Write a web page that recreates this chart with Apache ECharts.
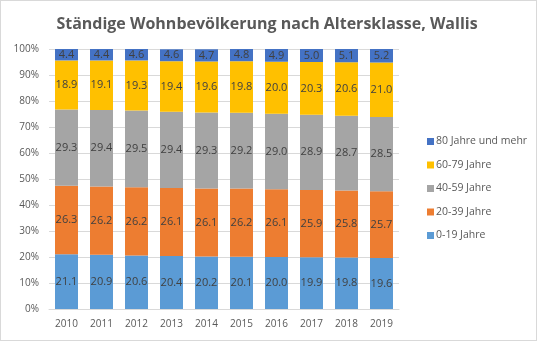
<!DOCTYPE html>
<html>
<head>
<meta charset="utf-8">
<script src="https://cdn.jsdelivr.net/npm/echarts@6/dist/echarts.min.js"></script>
<style>
  html, body { margin: 0; padding: 0; background: #fff; }
  #chart { width: 535px; height: 339px; border: 1px solid #d9d9d9; }
</style>
</head>
<body>
<div id="chart"></div>
<script>
// Permanent resident population of Valais by age class, share in percent
const years = ['2010', '2011', '2012', '2013', '2014', '2015', '2016', '2017', '2018', '2019'];
const age0to19 = [21.1, 20.9, 20.6, 20.4, 20.2, 20.1, 20.0, 19.9, 19.8, 19.6];
const age20to39 = [26.3, 26.2, 26.2, 26.1, 26.1, 26.2, 26.1, 25.9, 25.8, 25.7];
const age40to59 = [29.3, 29.4, 29.5, 29.4, 29.3, 29.2, 29.0, 28.9, 28.7, 28.5];
const age60to79 = [18.9, 19.1, 19.3, 19.4, 19.6, 19.8, 20.0, 20.3, 20.6, 21.0];
const age80plus = [4.4, 4.4, 4.6, 4.6, 4.7, 4.8, 4.9, 5.0, 5.1, 5.2];
const yTicks = [0, 10, 20, 30, 40, 50, 60, 70, 80, 90, 100];

const font = 'Open Sans';
const textGrey = '#595959';

function layer(name, data, color) {
  return {
    name: name,
    type: 'bar',
    stack: 'total',
    data: data,
    barWidth: 23,
    itemStyle: { color: color },
    label: {
      show: true,
      position: 'inside',
      formatter: p => p.value.toFixed(1),
      color: '#404040',
      fontFamily: font,
      fontSize: 11
    }
  };
}

const chart = echarts.init(document.getElementById('chart'), null, { renderer: 'canvas' });
chart.setOption({
  animation: false,
  backgroundColor: '#fff',
  title: {
    text: 'Ständige Wohnbevölkerung nach Altersklasse, Wallis',
    left: 261,
    textAlign: 'center',
    top: 10,
    textStyle: { fontFamily: font, fontSize: 16, fontWeight: 'bold', color: textGrey }
  },
  legend: {
    orient: 'vertical',
    left: 421,
    top: 130,
    itemWidth: 7,
    itemHeight: 7,
    itemGap: 12.5,
    icon: 'rect',
    textStyle: { fontFamily: font, fontSize: 10.5, color: textGrey, padding: [0, 0, 0, -3] },
    data: ['80 Jahre und mehr', '60-79 Jahre', '40-59 Jahre', '20-39 Jahre', '0-19 Jahre']
  },
  grid: { left: 48, right: 137, top: 48, bottom: 31, containLabel: false },
  xAxis: {
    type: 'category',
    data: years,
    axisTick: { show: false },
    axisLine: { lineStyle: { color: '#d9d9d9' } },
    axisLabel: { fontFamily: font, fontSize: 10, color: textGrey, margin: 10 }
  },
  yAxis: {
    type: 'value',
    min: yTicks[0],
    max: yTicks[yTicks.length - 1],
    interval: 10,
    axisLine: { show: false },
    axisTick: { show: false },
    splitLine: { lineStyle: { color: '#d9d9d9' } },
    axisLabel: { fontFamily: font, fontSize: 10, color: textGrey, formatter: '{value}%', margin: 10 }
  },
  series: [
    layer('0-19 Jahre', age0to19, '#5b9bd5'),
    layer('20-39 Jahre', age20to39, '#ed7d31'),
    layer('40-59 Jahre', age40to59, '#a5a5a5'),
    layer('60-79 Jahre', age60to79, '#ffc000'),
    layer('80 Jahre und mehr', age80plus, '#4472c4')
  ]
});
</script>
</body>
</html>
